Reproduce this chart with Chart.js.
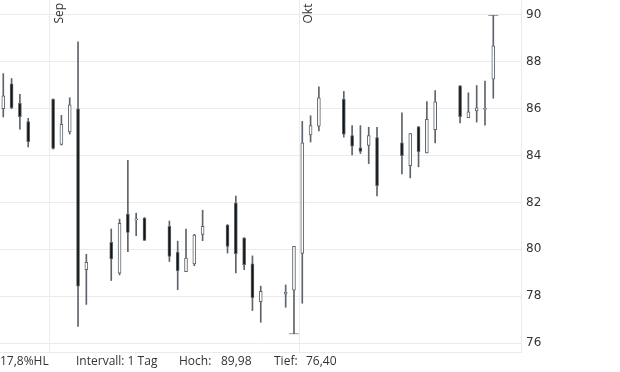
<!DOCTYPE html>
<html>
<head>
<meta charset="utf-8">
<script src="https://cdn.jsdelivr.net/npm/chart.js@4"></script>
<style>
  html, body { margin: 0; padding: 0; background: #fff; }
  #wrap { position: relative; width: 620px; height: 372px; overflow: hidden; }
  #chart { position: absolute; left: 0; top: 0; }
  .info { position: absolute; top: 352px; height: 20px; line-height: 20px; font: 12px "Open Sans", sans-serif; color: #333; white-space: nowrap; }
</style>
</head>
<body>
<div id="wrap">
  <canvas id="chart" width="620" height="372"></canvas>
  <span class="info" style="left:0px">17,8%HL</span>
  <span class="info" style="left:76px">Intervall: 1 Tag</span>
  <span class="info" style="left:179px">Hoch:</span>
  <span class="info" style="left:221px" id="hoch"></span>
  <span class="info" style="left:274px">Tief:</span>
  <span class="info" style="left:306px" id="tief"></span>
</div>
<script>
// trading days
const dates = [
  '2025-08-26', '2025-08-27', '2025-08-28', '2025-08-29',
  '2025-09-01', '2025-09-02', '2025-09-03', '2025-09-04', '2025-09-05',
  '2025-09-08', '2025-09-09', '2025-09-10', '2025-09-11', '2025-09-12',
  '2025-09-15', '2025-09-16', '2025-09-17', '2025-09-18', '2025-09-19',
  '2025-09-22', '2025-09-23', '2025-09-24', '2025-09-25', '2025-09-26',
  '2025-09-29', '2025-09-30', '2025-10-01', '2025-10-02', '2025-10-03',
  '2025-10-06', '2025-10-07', '2025-10-08', '2025-10-09', '2025-10-10',
  '2025-10-13', '2025-10-14', '2025-10-15', '2025-10-16', '2025-10-17',
  '2025-10-20', '2025-10-21', '2025-10-22', '2025-10-23', '2025-10-24',
];
const open = [
  86.00, 87.06, 86.23, 85.45,
  86.40, 84.48, 85.01, 86.00, 79.13,
  80.30, 78.98, 81.50, 81.26, 81.33,
  80.98, 79.87, 79.05, 79.38, 80.64,
  81.04, 81.97, 80.48, 79.38, 77.77,
  78.09, 78.26, 79.83, 84.88, 85.26,
  86.40, 84.85, 84.33, 84.43, 84.77,
  84.55, 83.57, 85.23, 84.11, 85.11,
  86.98, 85.62, 85.91, 85.97, 87.26,
];
const high = [
  87.50, 87.29, 86.61, 85.59,
  86.42, 85.72, 86.47, 88.85, 79.79,
  80.87, 81.29, 83.80, 81.55, 81.36,
  81.21, 80.35, 80.87, 80.64, 81.67,
  81.06, 82.27, 80.50, 79.72, 78.43,
  78.48, 80.13, 85.46, 85.70, 86.94,
  86.74, 85.28, 85.28, 85.21, 85.21,
  85.83, 84.94, 85.25, 86.31, 86.78,
  86.99, 86.68, 86.99, 87.18, 89.98,
];
const low = [
  85.65, 86.00, 85.13, 84.37,
  84.27, 84.45, 84.92, 76.71, 77.65,
  78.67, 78.91, 79.90, 80.58, 80.38,
  79.48, 78.28, 79.05, 79.30, 80.37,
  79.84, 78.99, 79.13, 77.39, 76.89,
  77.53, 76.40, 77.70, 84.58, 85.05,
  84.79, 84.03, 84.09, 83.66, 82.28,
  83.22, 83.05, 83.52, 84.11, 84.54,
  85.39, 85.62, 85.43, 85.30, 86.45,
];
const close = [
  86.55, 86.03, 85.66, 84.60,
  84.31, 85.33, 86.17, 78.43, 79.45,
  79.59, 81.11, 80.72, 81.30, 80.38,
  79.70, 79.09, 79.63, 80.61, 80.98,
  80.13, 79.82, 79.35, 77.94, 78.21,
  78.17, 80.13, 84.55, 85.28, 86.47,
  84.92, 84.40, 84.18, 84.85, 82.72,
  84.00, 84.94, 84.17, 85.55, 86.30,
  85.66, 85.87, 86.04, 86.02, 88.68,
];
const yTicks = [76, 78, 80, 82, 84, 86, 88, 90];
const monthStarts = ['2025-09-01', '2025-10-01'];
const monthLabels = ['Sep', 'Okt'];
const xMin = -6.02;
const xMax = 56.71;
const yMin = 75.62;
const yMax = 90.64;

const wickColor = '#5d646b';
const downColor = '#141414';
const upColor = '#ffffff';
const gridColor = '#ebebeb';

const baseDay = Date.parse(monthStarts[0]);
const dayOffset = (d) => (Date.parse(d) - baseDay) / 864e5;
const sessionTime = 9 / 24;
const xs = dates.map((d) => dayOffset(d) + sessionTime);

const maxHigh = Math.max(...high);
const minLow = Math.min(...low);
const iHigh = high.indexOf(maxHigh);
const iLow = low.indexOf(minLow);
const fmt = (v) => v.toFixed(2).replace('.', ',');
document.getElementById('hoch').textContent = fmt(maxHigh);
document.getElementById('tief').textContent = fmt(minLow);

const monthLabelPlugin = {
  id: 'monthLabels',
  afterDatasetsDraw(chart) {
    const { ctx, chartArea } = chart;
    const x = chart.scales.x;
    ctx.save();
    ctx.font = '12px "Open Sans", sans-serif';
    ctx.fillStyle = '#333';
    ctx.textAlign = 'left';
    ctx.textBaseline = 'alphabetic';
    monthStarts.forEach((d, i) => {
      const px = x.getPixelForValue(dayOffset(d));
      ctx.save();
      ctx.translate(px + 13, chartArea.top + 23.5);
      ctx.rotate(-Math.PI / 2);
      ctx.fillText(monthLabels[i], 0, 0);
      ctx.restore();
    });
    ctx.restore();
  },
};

new Chart(document.getElementById('chart'), {
  type: 'bar',
  data: {
    datasets: [
      {
        label: 'Körper',
        data: xs.map((x, i) => ({ x, y: [open[i], close[i]] })),
        backgroundColor: close.map((c, i) => (c >= open[i] ? upColor : downColor)),
        borderColor: wickColor,
        borderWidth: 1,
        borderSkipped: false,
        barThickness: 3,
        grouped: false,
        order: 0,
      },
      {
        label: 'Docht',
        data: xs.map((x, i) => ({ x, y: [low[i], high[i]] })),
        backgroundColor: wickColor,
        borderWidth: 0,
        barThickness: 1,
        grouped: false,
        order: 1,
      },
      {
        type: 'line',
        label: 'Hoch/Tief',
        data: [
          { x: xs[iHigh], y: maxHigh },
          { x: xs[iLow], y: minLow },
        ],
        showLine: false,
        pointStyle: 'line',
        pointRadius: 5,
        pointBorderWidth: 1,
        borderColor: '#9a9a9a',
        backgroundColor: '#9a9a9a',
        order: 2,
      },
    ],
  },
  options: {
    responsive: false,
    animation: false,
    layout: { autoPadding: false, padding: { bottom: 20 } },
    scales: {
      x: {
        type: 'linear',
        min: xMin,
        max: xMax,
        offset: false,
        afterBuildTicks: (s) => {
          s.ticks = monthStarts.map((d) => ({ value: dayOffset(d) }));
        },
        afterFit: (s) => {
          s.height = 0;
          s.paddingLeft = 0;
          s.paddingRight = 0;
        },
        ticks: { display: false },
        grid: { color: gridColor, drawTicks: false, offset: false },
        border: { color: gridColor },
      },
      y: {
        position: 'right',
        min: yMin,
        max: yMax,
        afterBuildTicks: (s) => {
          s.ticks = yTicks.map((v) => ({ value: v }));
        },
        afterFit: (s) => {
          s.width = 99;
          s.paddingTop = 0;
          s.paddingBottom = 0;
        },
        ticks: {
          padding: 5,
          color: '#333',
          font: { family: '"DejaVu Sans", sans-serif', size: 12 },
        },
        grid: { color: gridColor, drawTicks: false },
        border: { color: gridColor },
      },
    },
    plugins: {
      legend: { display: false },
      tooltip: { enabled: false },
    },
  },
  plugins: [monthLabelPlugin],
});
</script>
</body>
</html>
